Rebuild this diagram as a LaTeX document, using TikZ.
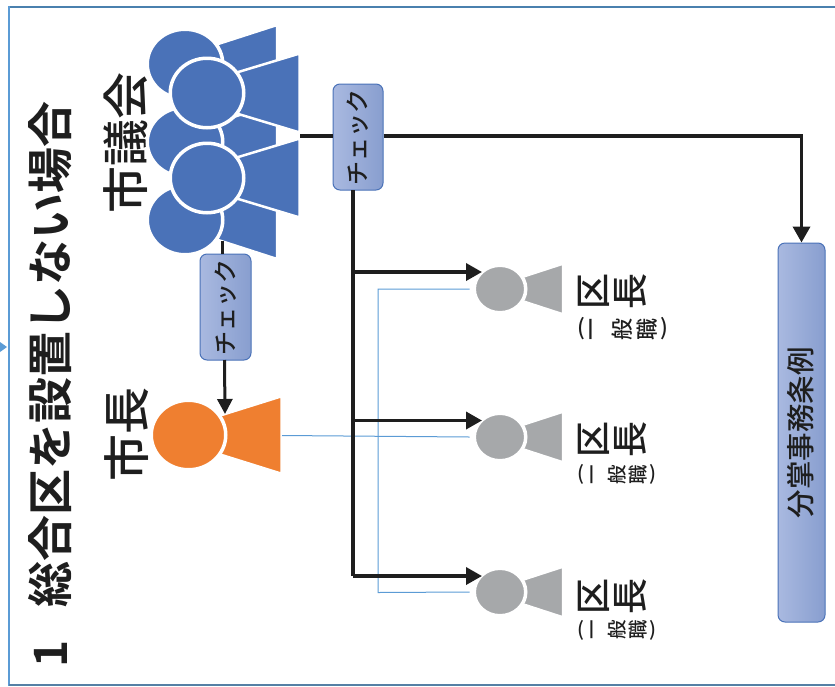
\documentclass[tikz,border=0pt]{standalone}
\usepackage{fontspec}
\setmainfont{Noto Sans CJK JP Medium}[Kerning=Off]
\newfontfamily\titlefont{Noto Sans CJK JP Bold}[Kerning=Off]
\usetikzlibrary{arrows.meta,shapes.geometric,calc}
\definecolor{council}{HTML}{4A72B8}
\definecolor{mayor}{HTML}{EF7F30}
\definecolor{wardc}{HTML}{A6A8AA}
\definecolor{fineblue}{HTML}{5B9BD5}
\definecolor{frameb}{HTML}{4A80AE}
\definecolor{boxl}{HTML}{A9B9E0}
\definecolor{boxr}{HTML}{889ECF}
\definecolor{ink}{HTML}{1E1E1E}
\newcommand{\fsz}[1]{\fontsize{#1}{#1}\selectfont}
\newcommand{\rc}[1]{\rotatebox[origin=c]{90}{#1}}
\newcommand{\person}[9]{%
  \fill[#6,draw=white,line width=2.5pt] (#2+#7,#3-#8) -- (#9,#3-#8-20*#4/36) -- (#9,#3+#8+20*#4/36) -- (#2+#7,#3+#8) -- cycle;
  \node[ellipse,fill=#6,draw=white,line width=3.5pt,inner sep=0pt,minimum width=2*#4+3.5pt,minimum height=2*#5+3.5pt] (#1) at (#2,#3) {};}
\tikzset{
  conn/.style={draw=ink,line width=3.6pt},
  arr/.style={conn,-{Triangle[length=16pt,width=17pt]},shorten >=0pt},
  fine/.style={draw=fineblue,line width=1pt},
  check/.style={rounded corners=7pt,draw=council,line width=1pt,left color=boxl,right color=boxr,inner sep=0pt},
  lab/.style={text=ink,inner sep=0pt,rotate=90},
}
\begin{document}
\begin{tikzpicture}[x=1pt,y=-1pt]
\useasboundingbox (0,0) rectangle (835,686);
% frame
\draw[frameb,line width=2pt] (835,7) -- (9,7);
\draw[fineblue,line width=2.6pt] (9,6) -- (9,686);
\draw[frameb!80!gray,line width=1.5pt] (9,685) -- (835,685);
\fill[fineblue] (0,342) -- (7,347) -- (0,352) -- cycle;
% title
\node[lab,anchor=west,font=\titlefont\fsz{46}] (title) at (50,668) {1\hspace{0.72em}総合区を設置しない場合};
\node[lab,font=\fsz{47}] (council) at (125.5,142.5) {市議会};
\node[lab,font=\fsz{47}] (mayorlab) at (126.5,434) {市長};
% people
\person{b1}{185}{64}{36}{33}{council}{30}{19}{277}
\person{b2}{185}{142}{36}{33}{council}{30}{19}{277}
\person{b3}{185}{220}{36}{33}{council}{30}{19}{277}
\person{f1}{207}{93}{35}{33}{council}{28}{20}{299.5}
\person{f2}{207}{178}{35}{33}{council}{28}{20}{299.5}
\person{m}{188.5}{435}{35.5}{33}{mayor}{30}{19}{281.5}
\person{w1}{500}{289}{24}{22}{wardc}{22}{12}{563}
\person{w2}{500}{437}{24}{22}{wardc}{22}{12}{563}
\person{w3}{500}{592}{24}{22}{wardc}{22}{12}{563}
% boxes
\node[check,minimum width=50pt,minimum height=106pt] (cc) at (358,137) {};
\node[lab,font=\fsz{24}] (cct) at (358,137) {チェック};
\node[check,minimum width=51pt,minimum height=106pt] (cm) at (225.5,307) {};
\node[lab,font=\fsz{24}] (cmt) at (225.5,307) {チェック};
\node[check,minimum width=47pt,minimum height=379pt] (ord) at (801.5,432.5) {};
\node[lab,font=\fsz{28.5}] (ordt) at (801,432.5) {分掌事務条例};
% ward labels
\foreach \n/\y/\sy/\sz/\a/\b/\c/\d/\e in {1/291/329/22/581/595/622.5/647.5/664,2/439/474.5/19.5/581/595/617.5/638/653,3/596/630/19.5/581/595/617.5/638/653}{
  \node[inner sep=0pt,text=ink,font=\fsz{36}] (wa\n) at (593.5,\y) {\rc{区}};
  \node[inner sep=0pt,text=ink,font=\fsz{36}] (wb\n) at (631,\y) {\rc{長}};
  \node[inner sep=0pt,text=ink,font=\fsz{\sz}] (wc\n) at (\a,\sy) {(};
  \node[inner sep=0pt,text=ink,font=\fsz{\sz}] (wd\n) at (\b,\sy) {\rc{一}};
  \node[inner sep=0pt,text=ink,font=\fsz{\sz}] (we\n) at (\c,\sy) {\rc{般}};
  \node[inner sep=0pt,text=ink,font=\fsz{\sz}] (wf\n) at (\d,\sy) {\rc{職}};
  \node[inner sep=0pt,text=ink,font=\fsz{\sz}] (wg\n) at (\e,\sy) {)};
}
% named connector ends
\coordinate (cstart) at (300,136);
\coordinate (ccl) at (cc.west |- cstart);
\coordinate (ccr) at (cc.east |- cstart);
\coordinate (corner) at (ord.north |- cstart);
\coordinate (ccb) at (353,190);
\coordinate (j1) at (353,272);
\coordinate (j2) at (353,420.5);
\coordinate (j3) at (353,576);
\coordinate (t1) at (482,272);
\coordinate (t2) at (482,420.5);
\coordinate (t3) at (482,576);
\coordinate (ctop) at (222,241);
\coordinate (cmt1) at (222,254);
\coordinate (cmb) at (224.5,360);
\coordinate (mtip) at (225,414);
\coordinate (mr) at (282,435.5);
\coordinate (tr) at (378,289);
\coordinate (br) at (378,592.5);
% thin lines
\draw[fine] (mr) -- ($(w2.west)+(-3,0)$);
\draw[fine] ($(w1.west)+(-3,0)$) -- (tr) -- (br) -- ($(w3.west)+(-3,0)$);
% thick connectors
\draw[conn] (cstart) -- (ccl);
\draw[arr] (ccr) -- (corner) -- (ord.north);
\draw[conn] (ccb) -- (j3);
\draw[arr] (j1) -- (t1);
\draw[arr] (j2) -- (t2);
\draw[arr] (j3) -- (t3);
\draw[conn,line width=3pt] (ctop) -- (cmt1);
\draw[conn,line width=3pt,-{Triangle[length=15pt,width=15pt]}] (cmb) -- (mtip);
\end{tikzpicture}
\end{document}
